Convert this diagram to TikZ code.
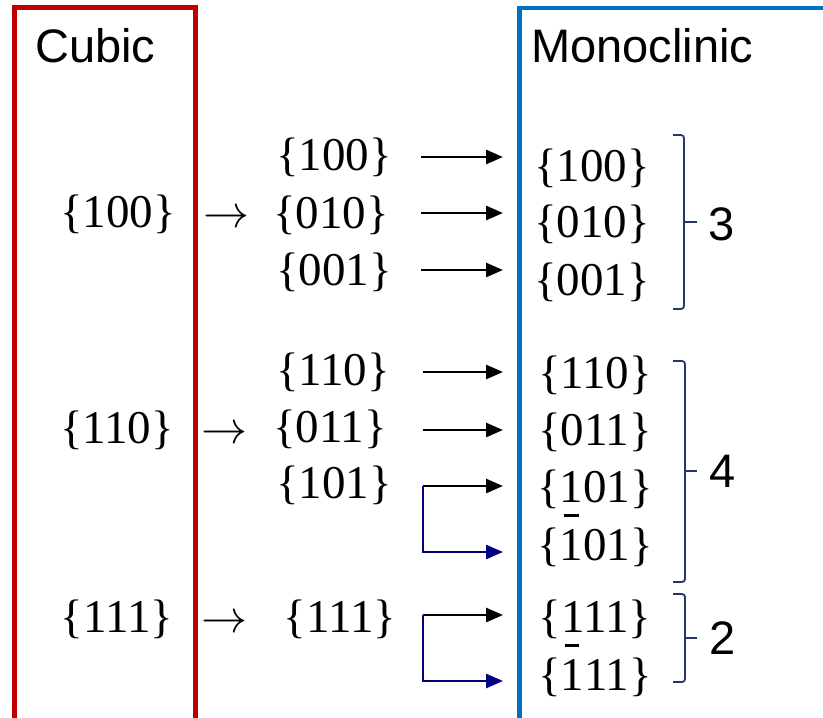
\documentclass[tikz,border=0pt]{standalone}
\usepackage{fontspec}
\setmainfont{Liberation Serif}
\newfontfamily\labelfont{Liberation Sans}
\usetikzlibrary{arrows.meta}

\definecolor{cubicred}{RGB}{192,0,0}
\definecolor{monoblue}{RGB}{0,112,192}
\definecolor{elbownavy}{RGB}{0,0,128}
\definecolor{bracenavy}{RGB}{32,56,110}

% digit 1 with an overbar (negative Miller index)
\newcommand\negone{\ooalign{1\cr\hidewidth\raisebox{0.92em}{\rule{0.3em}{0.05em}}\hidewidth\cr}}
% large text arrow
\newcommand\bigto{\scalebox{4.6}{$\rightarrow$}}

\tikzset{
  idx/.style={anchor=base, inner sep=0pt, font=\fontsize{47}{50}\selectfont},
  ttl/.style={anchor=base west, inner sep=0pt, font=\labelfont\fontsize{47}{52}\selectfont},
  cnt/.style={anchor=center, inner sep=0pt, font=\labelfont\fontsize{47}{52}\selectfont},
  frame/.style={line width=4.5pt},
  arr/.style={line width=2.7pt, -{Triangle[length=17pt,width=14pt]}},
  elbow/.style={line width=2.7pt, elbownavy, -{Triangle[length=17pt,width=14pt]}},
  grp/.style={line width=1.8pt, bracenavy, rounded corners=3pt},
}

\begin{document}
\begin{tikzpicture}[x=1pt,y=-1pt]
\useasboundingbox (0,0) rectangle (823,718);
\clip (0,0) rectangle (823,718);

% frames (open towards the lower edge)
\draw[frame, cubicred] (14.5,740) -- (14.5,7.5) -- (195.5,7.5) -- (195.5,740);
\draw[frame, monoblue] (519.5,740) -- (519.5,8) -- (850,8);

\node[ttl] (tcub) at (35,62) {Cubic};
\node[ttl] (tmono) at (531,62) {Monoclinic};

% cubic families
\node[idx] (c100) at (118,227) {\{100\}};
\node[idx] (c110) at (117,443) {\{110\}};
\node[idx] (c111) at (117,632) {\{111\}};

% splitting arrows
\node[anchor=base, inner sep=0pt] (s1) at (226,227) {\bigto};
\node[anchor=base, inner sep=0pt] (s2) at (224,443) {\bigto};
\node[anchor=base, inner sep=0pt] (s3) at (224,632) {\bigto};

% intermediate families
\node[idx] (m100) at (334,170) {\{100\}};
\node[idx] (m010) at (331,228) {\{010\}};
\node[idx] (m001) at (334,285) {\{001\}};
\node[idx] (m110) at (333,385) {\{110\}};
\node[idx] (m011) at (330,442) {\{011\}};
\node[idx] (m101) at (334,498) {\{101\}};
\node[idx] (m111) at (340,632) {\{111\}};

% monoclinic families
\node[idx] (r100) at (592,181) {\{100\}};
\node[idx] (r010) at (592,237) {\{010\}};
\node[idx] (r001) at (592,295) {\{001\}};
\node[idx] (r110) at (595,388) {\{110\}};
\node[idx] (r011) at (595,445) {\{011\}};
\node[idx] (r101) at (595,502) {\{101\}};
\node[idx] (rn101) at (595,560) {\{\negone01\}};
\node[idx] (r111) at (595,632) {\{111\}};
\node[idx] (rn111) at (595,690) {\{\negone11\}};

% arrow end points
\coordinate (a1) at (421,157);  \coordinate (b1) at (503,157);
\coordinate (a2) at (421,213);  \coordinate (b2) at (503,213);
\coordinate (a3) at (421,270);  \coordinate (b3) at (503,270);
\coordinate (a4) at (423,372);  \coordinate (b4) at (503,372);
\coordinate (a5) at (423,430);  \coordinate (b5) at (503,430);
\coordinate (a6) at (423,486);  \coordinate (b6) at (503,486);
\coordinate (b7) at (503,552);
\coordinate (a8) at (423,615);  \coordinate (b8) at (503,615);
\coordinate (b9) at (503,681);

\draw[arr] (a1) -- (b1);
\draw[arr] (a2) -- (b2);
\draw[arr] (a3) -- (b3);
\draw[arr] (a4) -- (b4);
\draw[arr] (a5) -- (b5);
\draw[arr] (a6) -- (b6);
\draw[elbow] (a6) |- (b7);
\draw[arr] (a8) -- (b8);
\draw[elbow] (a8) |- (b9);

% group brackets with counts
\draw[grp] (673,135) -- (684,135) -- (684,309) -- (673,309);
\draw[line width=1.8pt, bracenavy] (684,222) -- (697,222);
\node[cnt] (n3) at (722,224) {3};

\draw[grp] (673,361) -- (685,361) -- (685,582) -- (673,582);
\draw[line width=1.8pt, bracenavy] (685,471) -- (697,471);
\node[cnt] (n4) at (723,471) {4};

\draw[grp] (673,594) -- (685,594) -- (685,682) -- (673,682);
\draw[line width=1.8pt, bracenavy] (685,638) -- (697,638);
\node[cnt] (n2) at (723,638) {2};
\end{tikzpicture}
\end{document}
